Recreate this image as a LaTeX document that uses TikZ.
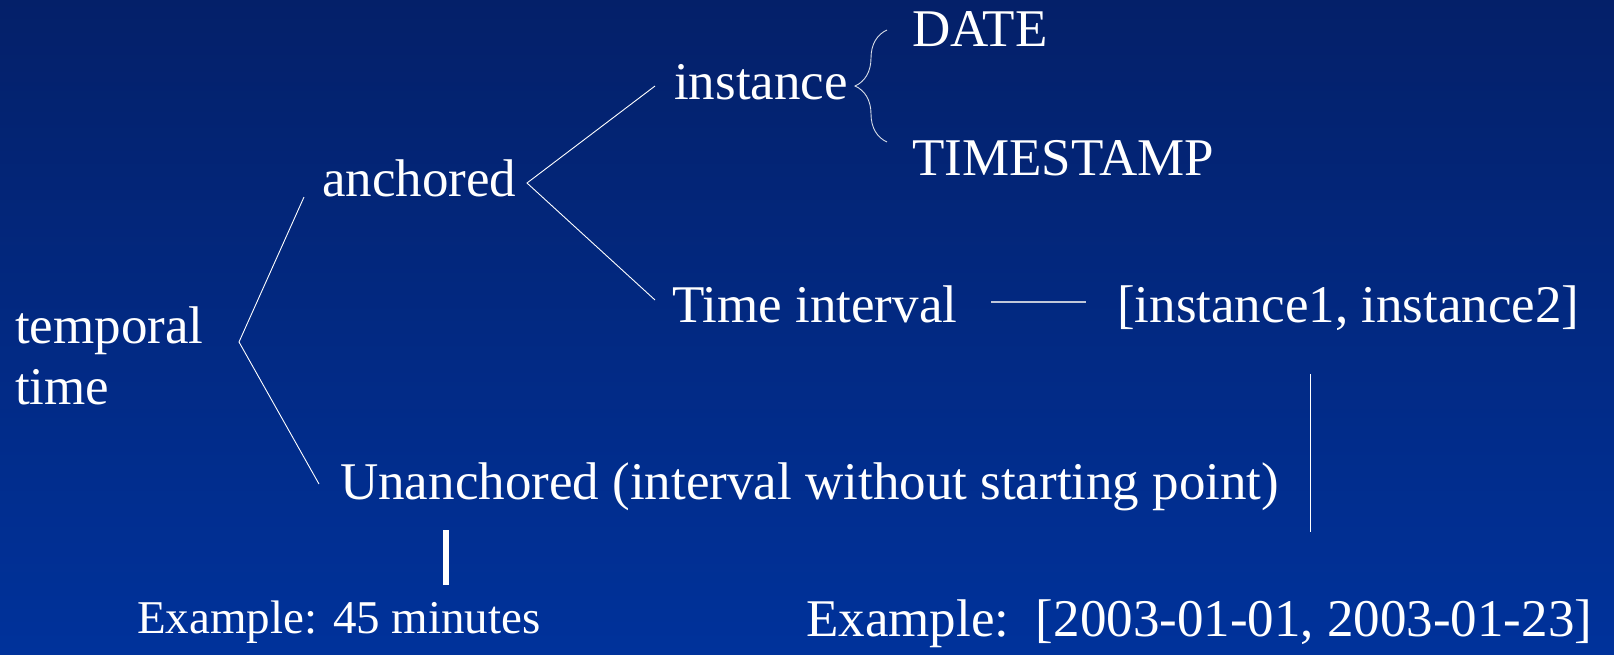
\documentclass[tikz,border=0pt]{standalone}
\usepackage{fontspec}
\setmainfont{Liberation Serif}
\usetikzlibrary{positioning,decorations.pathreplacing}
\definecolor{slidetop}{RGB}{4,32,105}
\definecolor{slidebottom}{RGB}{0,50,155}

\begin{document}
\begin{tikzpicture}[x=1pt,y=-1pt,
  lbl/.style={text=white,inner sep=0pt,anchor=base west,font=\fontsize{53}{61.5}\selectfont},
  smalllbl/.style={lbl,font=\fontsize{47}{54}\selectfont},
  branch/.style={draw=white,line width=0.9pt}]
\shade[top color=slidetop,bottom color=slidebottom] (0,0) rectangle (1614,654);
\useasboundingbox (0,0) rectangle (1614,654);

% tree labels
\node [lbl] (temporal) at (15,343) {temporal};
\node [lbl] (time) at (15,404.5) {time};
\node [lbl] (anchored) at (322,196) {anchored};
\node [lbl] (instance) at (674,99) {instance};
\node [lbl] (date) at (912,46) {DATE};
\node [lbl] (timestamp) at (912,175) {TIMESTAMP};
\node [lbl] (interval) at (672,322) {Time interval};
\node [lbl] (pair) at (1117,322) {[instance1, instance2]};
\node [lbl] (unanchored) at (340,499) {Unanchored (interval without starting point)};
\node [smalllbl] (minutes) at (137,633) {Example: 45 minutes};
\node [lbl] (dates) at (806,636) {Example:\ \ [2003-01-01, 2003-01-23]};

% fork points
\coordinate (tfork) at (239,342);
\coordinate (tup) at (304,197);
\coordinate (tdown) at (319,484);
\coordinate (afork) at (527,183);
\coordinate (aup) at (655,86);
\coordinate (adown) at (655,300);

\draw [branch] (tup) -- (tfork) -- (tdown);
\draw [branch] (aup) -- (afork) -- (adown);

% brace for the instance types
\coordinate (bracetop) at (887,30);
\coordinate (bracebot) at (887,142);
\draw [draw=white!85!slidetop, line width=0.9pt, decorate, decoration={brace,amplitude=32pt,aspect=0.5}] (bracebot) -- (bracetop);

\coordinate (ileft) at (991,302);
\coordinate (iright) at (1086,302);
\draw [draw=white!75!slidetop, line width=1.2pt] (ileft) -- (iright);

\coordinate (vtop) at (1310,374);
\coordinate (vbot) at (1310,532);
\draw [branch] (vtop) -- (vbot);

\coordinate (bartop) at (446,530);
\coordinate (barbot) at (446,585);
\draw [draw=white, line width=6pt] (bartop) -- (barbot);
\end{tikzpicture}
\end{document}
